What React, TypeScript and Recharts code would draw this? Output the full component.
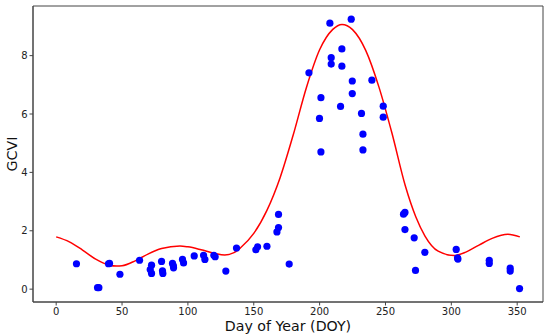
import React from "react";
import {
  ComposedChart,
  Line,
  Scatter,
  XAxis,
  YAxis,
  ReferenceArea,
  Label,
} from "recharts";

// observed GCVI samples (day of year, value)
const obsDoy: number[] = [
  15.4, 31.4, 32.4, 39.7, 40.5, 48.4, 63.3, 71.4, 72.4, 72.4, 80, 80.7, 81,
  88.3, 89, 89.1, 95.9, 96.7, 104.8, 111.9, 112.9, 119.7, 120.7, 128.8, 136.9,
  151.6, 152.9, 160, 167.6, 168.8, 168.8, 176.9, 191.9, 199.9, 201, 201, 207.8,
  208.8, 208.8, 215.9, 216.9, 216.9, 224, 224.8, 224.8, 231.8, 232.9, 232.9,
  239.7, 248.3, 248.3, 263.7, 264.8, 264.8, 271.8, 272.8, 279.9, 303.7, 304.7,
  305, 328.8, 328.8, 344.7, 344.7, 351.8,
];
const obsGcvi: number[] = [
  0.87, 0.05, 0.05, 0.87, 0.88, 0.51, 0.99, 0.67, 0.82, 0.54, 0.95, 0.63, 0.54,
  0.88, 0.8, 0.73, 1.02, 0.9, 1.14, 1.16, 1.02, 1.16, 1.11, 0.62, 1.41, 1.35,
  1.45, 1.47, 1.96, 2.11, 2.56, 0.86, 7.41, 5.85, 6.56, 4.7, 9.11, 7.93, 7.71,
  6.26, 8.23, 7.64, 9.25, 7.13, 6.7, 6.02, 5.31, 4.77, 7.16, 6.27, 5.89, 2.57,
  2.63, 2.04, 1.76, 0.64, 1.26, 1.36, 1.07, 1.03, 0.99, 0.88, 0.72, 0.62, 0.02,
];

// fitted curve
const fitDoy: number[] = [
  0, 10, 20, 30, 40, 46, 50, 60, 70, 80, 94, 100, 110, 120, 128, 135, 140, 150,
  160, 170, 180, 190, 200, 210, 217, 225, 235, 245, 255, 265, 273, 280, 290,
  302, 311, 321, 331, 343, 352,
];
const fitGcvi: number[] = [
  1.79, 1.62, 1.34, 1.03, 0.83, 0.79, 0.8, 0.97, 1.21, 1.39, 1.48, 1.45, 1.35,
  1.23, 1.17, 1.25, 1.42, 1.91, 2.7, 3.82, 5.29, 6.91, 8.2, 8.9, 9.07, 8.89,
  8.18, 6.93, 5.33, 3.55, 2.48, 1.82, 1.3, 1.15, 1.27, 1.51, 1.74, 1.88, 1.79,
];

const xTicks: number[] = [0, 50, 100, 150, 200, 250, 300, 350];
const yTicks: number[] = [0, 2, 4, 6, 8];

const points = obsDoy.map((x, i) => ({ x, y: obsGcvi[i] }));
const curve = fitDoy.map((x, i) => ({ x, y: fitGcvi[i] }));

const X_DOMAIN: [number, number] = [-17.6, 369.6];
const Y_DOMAIN: [number, number] = [-0.44, 9.7];

const font = "DejaVu Sans, sans-serif";

const Dot = (props: any) => (
  <circle cx={props.cx} cy={props.cy} r={3.6} fill="#0000ff" />
);

const App: React.FC = () => {
  return (
    <div style={{ position: "absolute", left: 0, top: 0 }}>
      <ComposedChart
        width={550}
        height={336}
        margin={{ top: 6, right: 7, left: 0, bottom: 0 }}
        style={{ fontFamily: font }}
      >
        <XAxis
          type="number"
          dataKey="x"
          domain={X_DOMAIN}
          ticks={xTicks}
          allowDataOverflow
          height={34}
          tickSize={3.5}
          tickMargin={2}
          tick={{ fontSize: 10, fill: "#222" }}
          stroke="#444"
        >
          <Label
            value="Day of Year (DOY)"
            position="insideBottom"
            offset={5}
            style={{ fontSize: 14.2, fill: "#111" }}
          />
        </XAxis>
        <YAxis
          type="number"
          dataKey="y"
          domain={Y_DOMAIN}
          ticks={yTicks}
          allowDataOverflow
          width={33}
          tickSize={3.5}
          tickMargin={2}
          tick={{ fontSize: 10, fill: "#222" }}
          stroke="#444"
        >
          <Label
            value="GCVI"
            angle={-90}
            position="insideLeft"
            offset={12}
            style={{ fontSize: 14.2, fill: "#111", textAnchor: "middle" }}
          />
        </YAxis>
        <ReferenceArea
          x1={X_DOMAIN[0]}
          x2={X_DOMAIN[1]}
          y1={Y_DOMAIN[0]}
          y2={Y_DOMAIN[1]}
          fill="none"
          fillOpacity={0}
          stroke="#444"
          strokeWidth={1}
        />
        <Scatter
          data={points}
          dataKey="y"
          shape={Dot}
          isAnimationActive={false}
        />
        <Line
          data={curve}
          dataKey="y"
          type="monotone"
          stroke="#ff0000"
          strokeWidth={1.5}
          dot={false}
          activeDot={false}
          isAnimationActive={false}
        />
      </ComposedChart>
    </div>
  );
};

export default App;
